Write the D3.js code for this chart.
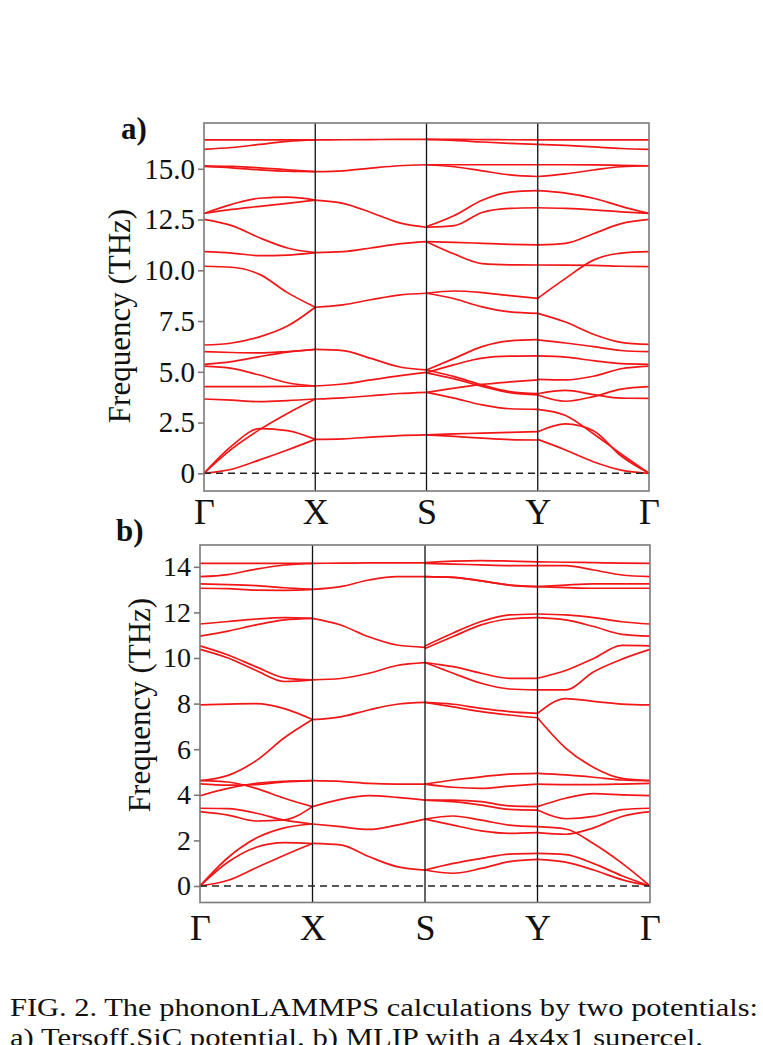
<!DOCTYPE html>
<html>
<head>
<meta charset="utf-8">
<script src="https://cdn.jsdelivr.net/npm/d3@7"></script>
<style>
  body { margin: 0; background: #fff; }
  svg { display: block; }
</style>
</head>
<body>
<script>
// high-symmetry path and sample positions inside each segment
const kLabels = ["Γ", "X", "S", "Y", "Γ"];
const kFrac = [0, 0.25, 0.5, 0.75, 1];

const ticksA = [0, 2.5, 5, 7.5, 10, 12.5, 15];
const ticksB = [0, 2, 4, 6, 8, 10, 12, 14];

// a) Tersoff -- one row per branch, values (THz) at kFrac inside the segment
const aGX = [
  [0, 0.2, 0.66, 1.15, 1.67],
  [0, 1.35, 2.2, 2.1, 1.67],
  [0, 1.2, 2.15, 2.95, 3.66],
  [3.66, 3.6, 3.53, 3.58, 3.66],
  [4.27, 4.27, 4.27, 4.28, 4.3],
  [5.28, 5.17, 4.84, 4.46, 4.3],
  [5.37, 5.5, 5.75, 5.97, 6.1],
  [5.99, 5.95, 5.93, 6.0, 6.1],
  [6.32, 6.42, 6.72, 7.25, 8.18],
  [10.2, 10.15, 9.8, 8.9, 8.18],
  [10.92, 10.85, 10.72, 10.75, 10.87],
  [12.51, 12.2, 11.6, 11.1, 10.87],
  [12.8, 13.25, 13.55, 13.6, 13.46],
  [12.8, 13.0, 13.15, 13.3, 13.46],
  [15.15, 15.12, 15.05, 14.95, 14.86],
  [15.12, 15.05, 14.95, 14.88, 14.86],
  [15.96, 16.05, 16.2, 16.35, 16.42],
  [16.42, 16.42, 16.42, 16.42, 16.42]
];
const aXS = [
  [1.67, 1.7, 1.78, 1.86, 1.89],
  [3.66, 3.72, 3.82, 3.93, 3.99],
  [4.3, 4.4, 4.6, 4.8, 4.97],
  [6.1, 6.04, 5.66, 5.25, 5.09],
  [8.18, 8.3, 8.55, 8.78, 8.87],
  [10.87, 10.92, 11.1, 11.3, 11.41],
  [13.46, 13.3, 12.85, 12.35, 12.12],
  [14.86, 14.9, 15.03, 15.15, 15.2],
  [16.42, 16.43, 16.44, 16.45, 16.45]
];
const aSY = [
  [1.89, 1.94, 1.98, 2.02, 2.05],
  [1.89, 1.82, 1.73, 1.66, 1.64],
  [3.99, 4.2, 4.38, 4.5, 4.6],
  [3.99, 3.7, 3.37, 3.18, 3.15],
  [5.09, 5.66, 6.24, 6.52, 6.58],
  [4.95, 5.35, 5.67, 5.77, 5.78],
  [5.09, 4.76, 4.35, 4.02, 3.92],
  [4.95, 4.65, 4.28, 3.97, 3.86],
  [8.87, 8.98, 8.9, 8.75, 8.62],
  [8.87, 8.6, 8.2, 7.95, 7.88],
  [11.41, 11.38, 11.33, 11.28, 11.25],
  [11.41, 10.8, 10.33, 10.27, 10.26],
  [12.15, 12.7, 13.45, 13.85, 13.92],
  [12.12, 12.2, 12.85, 13.05, 13.08],
  [15.2, 15.2, 15.2, 15.2, 15.2],
  [15.2, 15.1, 14.9, 14.7, 14.62],
  [16.45, 16.45, 16.44, 16.43, 16.42],
  [16.45, 16.4, 16.32, 16.25, 16.2]
];
const aYG = [
  [1.67, 1.15, 0.57, 0.16, 0],
  [2.05, 2.43, 2.1, 0.85, 0],
  [3.15, 2.85, 1.95, 0.95, 0],
  [3.92, 4.08, 3.88, 3.7, 3.69],
  [3.86, 3.55, 3.78, 4.15, 4.27],
  [4.63, 4.6, 4.78, 5.15, 5.28],
  [5.78, 5.72, 5.55, 5.4, 5.37],
  [6.57, 6.42, 6.24, 6.05, 5.99],
  [7.88, 7.45, 6.85, 6.45, 6.35],
  [8.62, 9.6, 10.5, 10.85, 10.92],
  [10.26, 10.25, 10.24, 10.2, 10.18],
  [11.25, 11.33, 11.8, 12.3, 12.51],
  [13.08, 13.05, 12.98, 12.88, 12.8],
  [13.92, 13.8, 13.55, 13.15, 12.8],
  [14.62, 14.75, 14.94, 15.1, 15.15],
  [15.2, 15.2, 15.19, 15.17, 15.15],
  [16.42, 16.42, 16.42, 16.42, 16.42],
  [16.2, 16.15, 16.08, 16.0, 15.96]
];

// b) MLIP 4x4x1
const bGX = [
  [0, 0.25, 0.8, 1.35, 1.86],
  [0, 1.05, 1.7, 1.9, 1.86],
  [0, 1.25, 2.1, 2.55, 2.72],
  [3.41, 3.39, 3.19, 2.89, 2.72],
  [3.26, 3.11, 2.85, 2.9, 3.48],
  [4.62, 4.56, 4.28, 3.85, 3.48],
  [3.96, 4.28, 4.5, 4.59, 4.62],
  [4.48, 4.42, 4.45, 4.56, 4.62],
  [4.62, 4.85, 5.5, 6.5, 7.3],
  [7.94, 7.98, 8.0, 7.78, 7.3],
  [10.38, 10.0, 9.45, 8.97, 9.04],
  [10.53, 10.13, 9.61, 9.13, 9.04],
  [10.96, 11.18, 11.45, 11.67, 11.74],
  [11.49, 11.6, 11.71, 11.77, 11.74],
  [13.06, 13.04, 12.98, 12.97, 13.01],
  [13.25, 13.22, 13.17, 13.08, 13.01],
  [13.57, 13.66, 13.9, 14.08, 14.15],
  [14.15, 14.15, 14.15, 14.15, 14.15]
];
const bXS = [
  [1.87, 1.8, 1.29, 0.85, 0.7],
  [2.72, 2.6, 2.48, 2.67, 2.93],
  [3.48, 3.8, 3.96, 3.89, 3.77],
  [4.62, 4.59, 4.5, 4.47, 4.47],
  [7.3, 7.42, 7.72, 7.97, 8.05],
  [9.04, 9.1, 9.33, 9.67, 9.8],
  [11.74, 11.45, 10.93, 10.57, 10.47],
  [13.01, 13.13, 13.42, 13.57, 13.57],
  [14.15, 14.16, 14.17, 14.17, 14.17]
];
const bSY = [
  [0.7, 0.99, 1.21, 1.4, 1.43],
  [0.7, 0.56, 0.77, 1.07, 1.17],
  [2.93, 3.07, 2.89, 2.67, 2.6],
  [2.93, 2.67, 2.42, 2.31, 2.34],
  [3.77, 3.77, 3.7, 3.51, 3.48],
  [3.77, 3.7, 3.55, 3.36, 3.33],
  [4.47, 4.65, 4.79, 4.91, 4.94],
  [4.47, 4.33, 4.28, 4.38, 4.47],
  [8.05, 7.97, 7.79, 7.65, 7.57],
  [8.05, 7.86, 7.65, 7.5, 7.38],
  [9.8, 9.62, 9.33, 9.11, 9.11],
  [9.8, 9.33, 8.89, 8.64, 8.6],
  [10.53, 11.1, 11.6, 11.89, 11.93],
  [10.42, 10.94, 11.45, 11.71, 11.77],
  [13.57, 13.54, 13.38, 13.2, 13.13],
  [13.57, 13.54, 13.38, 13.2, 13.13],
  [14.18, 14.25, 14.27, 14.25, 14.22],
  [14.15, 14.12, 14.08, 14.05, 14.05]
];
const bYG = [
  [1.17, 1.05, 0.7, 0.28, 0],
  [1.43, 1.38, 0.98, 0.45, 0],
  [2.6, 2.5, 1.85, 1.0, 0],
  [2.34, 2.27, 2.55, 3.05, 3.26],
  [3.33, 2.95, 3.05, 3.35, 3.41],
  [3.48, 3.85, 4.05, 4.0, 3.96],
  [4.47, 4.45, 4.45, 4.47, 4.5],
  [4.94, 4.87, 4.77, 4.65, 4.62],
  [7.38, 6.05, 5.2, 4.72, 4.62],
  [7.57, 8.22, 8.1, 7.98, 7.94],
  [8.6, 8.6, 9.4, 9.95, 10.38],
  [9.11, 9.45, 9.98, 10.55, 10.53],
  [11.77, 11.67, 11.38, 11.04, 10.96],
  [11.93, 11.89, 11.77, 11.59, 11.49],
  [13.13, 13.09, 13.06, 13.06, 13.06],
  [13.13, 13.2, 13.25, 13.25, 13.25],
  [14.05, 14.05, 13.86, 13.64, 13.57],
  [14.22, 14.2, 14.18, 14.16, 14.15]
];

const W = 763, H = 1045;
const serif = "'Liberation Serif', 'Times New Roman', serif";

const svg = d3.select("body").append("svg")
    .attr("width", W)
    .attr("height", H)
    .attr("font-family", serif);

function panel(p) {
  const x = d3.scaleLinear().domain([0, 4]).range([p.left, p.right]);
  const y = d3.scaleLinear().domain(p.yDomain).range([p.bottom, p.top]);
  const g = svg.append("g");

  const line = d3.line()
      .x(d => x(d[0]))
      .y(d => y(d[1]))
      .curve(d3.curveMonotoneX);

  // bands, segment by segment
  p.segs.forEach((seg, s) => {
    g.append("g")
        .attr("fill", "none")
        .attr("stroke", "#f21616")
        .attr("stroke-width", 1.7)
      .selectAll("path")
      .data(seg)
      .join("path")
        .attr("d", vals => line(vals.map((v, i) => [s + kFrac[i], v])));
  });

  // high-symmetry verticals
  g.append("g")
    .selectAll("line")
    .data([1, 2, 3])
    .join("line")
      .attr("x1", d => x(d)).attr("x2", d => x(d))
      .attr("y1", p.top).attr("y2", p.bottom)
      .attr("stroke", "#111")
      .attr("stroke-width", 1.3);

  // zero line
  g.append("line")
      .attr("x1", p.left).attr("x2", p.right)
      .attr("y1", y(0)).attr("y2", y(0))
      .attr("stroke", "#222")
      .attr("stroke-width", 1.6)
      .attr("stroke-dasharray", "7,5");

  // frame
  g.append("rect")
      .attr("x", p.left).attr("y", p.top)
      .attr("width", p.right - p.left).attr("height", p.bottom - p.top)
      .attr("fill", "none")
      .attr("stroke", "#7a7a7a")
      .attr("stroke-width", 1.6);

  // y axis
  const ya = g.append("g")
      .attr("transform", `translate(${p.left},0)`)
      .call(d3.axisLeft(y).tickValues(p.ticks).tickFormat(p.fmt).tickSize(6).tickPadding(3));
  ya.select(".domain").remove();
  ya.selectAll(".tick line").attr("stroke", "#7a7a7a").attr("stroke-width", 1.6);
  ya.selectAll(".tick text")
      .attr("font-family", serif)
      .attr("font-size", p.tickSize)
      .attr("fill", "#111");

  // x axis labels
  const xa = g.append("g")
      .attr("transform", `translate(0,${p.bottom})`)
      .call(d3.axisBottom(x).tickValues([0, 1, 2, 3, 4]).tickFormat(i => kLabels[i]).tickSize(0));
  xa.select(".domain").remove();
  xa.selectAll(".tick text")
      .attr("font-family", serif)
      .attr("font-size", 36)
      .attr("fill", "#111")
      .attr("dy", null)
      .attr("y", p.xLabelY);

  // y title
  g.append("text")
      .attr("transform", `translate(${p.titleX},${p.titleY}) rotate(-90)`)
      .attr("text-anchor", "middle")
      .attr("font-size", 31)
      .attr("fill", "#111")
      .text("Frequency (THz)");

  // panel letter
  g.append("text")
      .attr("x", p.tagX).attr("y", p.tagY)
      .attr("font-size", 31)
      .attr("font-weight", "bold")
      .attr("fill", "#111")
      .text(p.tag);
}

panel({
  left: 204, right: 649, top: 123, bottom: 491,
  yDomain: [-0.872, 17.256],
  ticks: ticksA,
  tickSize: 29,
  fmt: d => d === 0 ? "0" : d3.format(".1f")(d),
  segs: [aGX, aXS, aSY, aYG],
  xLabelY: 33,
  titleX: 130, titleY: 316,
  tag: "a)", tagX: 121, tagY: 139
});

panel({
  left: 200, right: 650, top: 545, bottom: 902.5,
  yDomain: [-0.724, 14.956],
  ticks: ticksB,
  tickSize: 28,
  fmt: d3.format("d"),
  segs: [bGX, bXS, bSY, bYG],
  xLabelY: 37,
  titleX: 150, titleY: 705,
  tag: "b)", tagX: 116, tagY: 541
});

// caption
const cap = svg.append("g")
    .attr("font-family", "'Liberation Serif', 'DejaVu Serif', serif")
    .attr("font-size", 26)
    .attr("fill", "#111");
cap.append("text")
    .attr("x", 10).attr("y", 1016)
    .attr("textLength", 748)
    .attr("lengthAdjust", "spacingAndGlyphs")
    .text("FIG. 2. The phononLAMMPS calculations by two potentials:");
cap.append("text")
    .attr("x", 10).attr("y", 1046)
    .attr("textLength", 693)
    .attr("lengthAdjust", "spacingAndGlyphs")
    .text("a) Tersoff.SiC potential. b) MLIP with a 4x4x1 supercel.");
</script>
</body>
</html>
